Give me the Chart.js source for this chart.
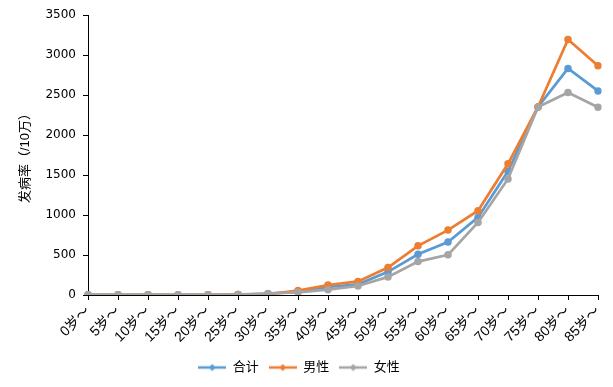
<!DOCTYPE html>
<html><head><meta charset="utf-8">
<script src="https://cdn.jsdelivr.net/npm/chart.js@4/dist/chart.umd.min.js"></script>
<style>html,body{margin:0;padding:0;background:#fff;}#wrap{width:613px;height:387px;}</style>
</head><body><div id="wrap"><canvas id="c" width="613" height="387"></canvas></div>
<script>
const categories = ["0岁～","5岁～","10岁～","15岁～","20岁～","25岁～","30岁～","35岁～","40岁～","45岁～","50岁～","55岁～","60岁～","65岁～","70岁～","75岁～","80岁～","85岁～"];
const totalValues = [3,3,3,3,3,5,15,42,100,134,289,510,661,970,1547,2350,2832,2551];
const maleValues = [3,3,3,1,3,5,12,55,125,170,343,615,811,1054,1640,2350,3195,2865];
const femaleValues = [3,3,3,3,3,5,20,34,67,113,226,418,502,907,1451,2350,2531,2346];
const yTicks = [0,500,1000,1500,2000,2500,3000,3500];
const seriesNames = ["合计","男性","女性"];
const colors = ["#5B9BD5","#ED7D31","#A5A5A5"];

const FONT = "'Liberation Sans','Noto Sans CJK SC',sans-serif";

function legendIcon(color){
  const cv = document.createElement('canvas');
  cv.width = 28; cv.height = 8;
  const g = cv.getContext('2d');
  g.strokeStyle = color; g.lineWidth = 2.5;
  g.beginPath(); g.moveTo(0,4); g.lineTo(28,4); g.stroke();
  g.fillStyle = color;
  g.beginPath(); g.moveTo(14,0.5); g.lineTo(17.5,4); g.lineTo(14,7.5); g.lineTo(10.5,4); g.closePath(); g.fill();
  return cv;
}
const icons = colors.map(legendIcon);

const seriesData = [totalValues, maleValues, femaleValues];
const datasets = seriesNames.map((n,i)=>({
  label: n,
  data: seriesData[i],
  borderColor: colors[i],
  backgroundColor: colors[i],
  borderWidth: 2.75,
  pointRadius: 3.75,
  pointHoverRadius: 3.75,
  pointBorderWidth: 0,
  tension: 0,
  order: 3 - i
}));

new Chart(document.getElementById('c'), {
  type: 'line',
  data: { labels: categories, datasets },
  options: {
    responsive: false,
    animation: false,
    layout: { padding: { left: 0, right: 15, top: 15, bottom: 3 } },
    plugins: {
      tooltip: { enabled: false },
      legend: {
        position: 'bottom',
        labels: {
          font: { family: FONT, size: 13 },
          color: '#000',
          usePointStyle: true,
          pointStyleWidth: 28,
          boxHeight: 8,
          padding: 10,
          sort: (a,b) => a.datasetIndex - b.datasetIndex,
          generateLabels: (chart) => seriesNames.map((n,i)=>({
            text: n, datasetIndex: i, pointStyle: icons[i],
            fillStyle: colors[i], strokeStyle: colors[i], lineWidth: 0, fontColor: '#000'
          }))
        }
      }
    },
    scales: {
      x: {
        offset: false,
        grid: { display: true, drawOnChartArea: false, drawTicks: true, tickLength: 5, color: '#000', lineWidth: 1 },
        border: { color: '#000', width: 1 },
        ticks: { font: { family: FONT, size: 14 }, color: '#000', maxRotation: 45, minRotation: 45, autoSkip: false, padding: 3 },
        afterFit: (s) => { s.height = 56; }
      },
      y: {
        min: 0, max: 3500,
        afterBuildTicks: (s) => { s.ticks = yTicks.map(v=>({value:v})); },
        grid: { display: true, drawOnChartArea: false, drawTicks: true, tickLength: 5, color: '#000', lineWidth: 1 },
        border: { color: '#000', width: 1 },
        ticks: { font: { family: "'DejaVu Sans',sans-serif", size: 12 }, color: '#000', padding: 7, callback: (v) => String(v) },
        title: { display: true, text: '发病率（/10万）', font: { family: FONT, size: 13 }, color: '#000', padding: { top: 18, bottom: 0 } },
        afterFit: (s) => { s.width = 88; }
      }
    }
  }
});
</script>
</body></html>
